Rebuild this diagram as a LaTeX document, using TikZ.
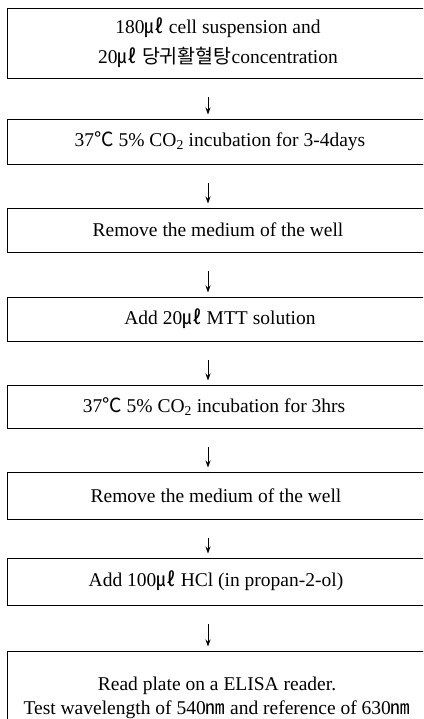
\documentclass[tikz,border=0pt]{standalone}
\usepackage{fontspec}
\setmainfont{Liberation Serif}
\newfontfamily\kr{Noto Sans CJK KR}
\usetikzlibrary{arrows.meta}
\newcommand{\myul}{{\kr ㎕}}
\newcommand{\mynm}{{\kr ㎚}}
\newcommand{\mydeg}{{\kr ℃}}
\begin{document}
\begin{tikzpicture}[x=1pt,y=-1pt,
  stepbox/.style={draw, line width=1.2pt, minimum width=440pt, inner sep=0pt, anchor=north west},
  txt/.style={font=\fontsize{19.5}{23.5}\selectfont, align=center, inner sep=0pt},
  flow/.style={-{Stealth[length=7pt,width=5pt]}, line width=0.9pt, shorten <=18pt, shorten >=4.5pt}]
\useasboundingbox (0,0) rectangle (423,719);
\fill[white] (0,0) rectangle (423,719);
\clip (0,0) rectangle (423,719);
\coordinate (ax) at (208,0);
\node[stepbox, minimum height=70pt] (b1) at (7,8) {};
\node[stepbox, minimum height=45pt] (b2) at (7,119) {};
\node[stepbox, minimum height=44pt] (b3) at (7,208) {};
\node[stepbox, minimum height=44pt] (b4) at (7,297) {};
\node[stepbox, minimum height=43pt] (b5) at (7,385) {};
\node[stepbox, minimum height=47pt] (b6) at (7,472) {};
\node[stepbox, minimum height=47pt] (b7) at (7,558) {};
\node[stepbox, minimum height=90pt] (b8) at (7,651) {};
\node[txt, font=\fontsize{19.5}{30}\selectfont] (t1) at (218,43) {180\myul\ cell suspension and\\20\myul\ {\kr 당귀활혈탕}concentration};
\node[txt] (t2) at (220,141) {37\mydeg\ 5\% CO\textsubscript{2} incubation for 3-4days};
\node[txt] (t3) at (218,230) {Remove the medium of the well};
\node[txt] (t4) at (220,319) {Add 20\myul\ MTT solution};
\node[txt] (t5) at (214,407) {37\mydeg\ 5\% CO\textsubscript{2} incubation for 3hrs};
\node[txt] (t6) at (216,496) {Remove the medium of the well};
\node[txt] (t7) at (216,581) {Add 100\myul\ HCl (in propan-2-ol)};
\node[txt] (t8) at (217,698) {Read plate on a ELISA reader.\\Test wavelength of 540\mynm\ and reference of 630\mynm};
\draw[flow] (b1.south -| ax) -- (b2.north -| ax);
\draw[flow] (b2.south -| ax) -- (b3.north -| ax);
\draw[flow] (b3.south -| ax) -- (b4.north -| ax);
\draw[flow] (b4.south -| ax) -- (b5.north -| ax);
\draw[flow] (b5.south -| ax) -- (b6.north -| ax);
\draw[flow] (b6.south -| ax) -- (b7.north -| ax);
\draw[flow] (b7.south -| ax) -- (b8.north -| ax);
\end{tikzpicture}
\end{document}
